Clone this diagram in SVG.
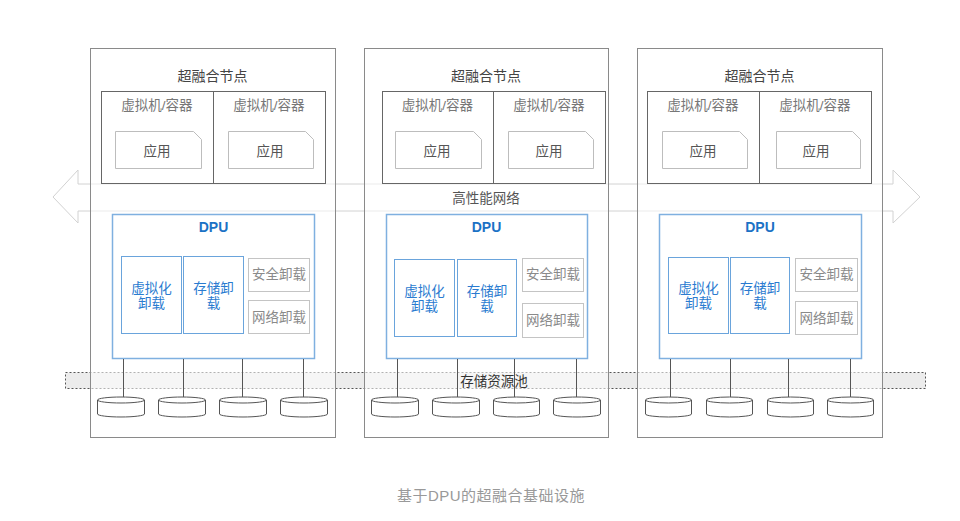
<svg xmlns="http://www.w3.org/2000/svg" width="960" height="521" viewBox="0 0 960 521">
<style>
text{font-family:"Liberation Sans","Noto Sans CJK SC",sans-serif;text-anchor:middle}
.outer{fill:#fff;fill-opacity:0.55;stroke:#8a8a8a;stroke-width:1}
.vm{fill:none;stroke:#666;stroke-width:1}
.app{fill:#fff;stroke:#bdbdbd;stroke-width:1}
.dpu{fill:#fff;stroke:#7fb0e0;stroke-width:1.5}
.blue{fill:#fff;stroke:#6aa4dc;stroke-width:1}
.gray{fill:#fff;stroke:#c4c4c4;stroke-width:1}
.disk{fill:#fff;stroke:#555;stroke-width:1}
.link{stroke:#555;stroke-width:1;fill:none}
.t-title{font-size:14px;fill:#444}
.t-vm{font-size:13.5px;fill:#777}
.t-app{font-size:13.5px;fill:#555}
.t-dpu{font-size:14px;font-weight:bold;fill:#1b72c5}
.t-blue{font-size:13.5px;fill:#2a7bd0}
.t-gray{font-size:13.5px;fill:#8a8a8a}
.t-dark{font-size:13.5px;fill:#333}
.t-cap{font-size:15px;fill:#999;letter-spacing:0.5px}
</style>

<g id="network">
<polygon points="53,197 78,170 78,184 893,184 893,170 920,197 893,223 893,211 78,211 78,223" fill="#fff" stroke="#d2d2d2" stroke-width="1"/>
</g>

<g id="storage-pool">
<rect x="65.5" y="372.5" width="860" height="16" fill="#ececec" stroke="#555" stroke-width="1" stroke-dasharray="2 2"/>
</g>

<g id="node1">
<rect class="outer" x="90.5" y="48.5" width="245" height="389"/>
<text class="t-title" x="212.5" y="81">超融合节点</text>
<rect class="vm" x="101.5" y="91.5" width="224" height="92"/>
<line class="vm" x1="213.5" y1="91.5" x2="213.5" y2="183.5"/>
<text class="t-vm" x="157" y="110">虚拟机/容器</text>
<text class="t-vm" x="269" y="110">虚拟机/容器</text>
<path class="app" d="M115.5,131.5 H193.5 L201.5,139.5 V168.5 H115.5 Z"/>
<path class="app" d="M228.5,131.5 H305.5 L313.5,139.5 V168.5 H228.5 Z"/>
<text class="t-app" x="157" y="156">应用</text>
<text class="t-app" x="270" y="156">应用</text>
<rect class="dpu" x="112.5" y="214.5" width="202" height="144"/>
<text class="t-dpu" x="213.5" y="232">DPU</text>
<rect class="blue" x="121.5" y="256.5" width="60" height="77"/>
<rect class="blue" x="183.5" y="256.5" width="60" height="77"/>
<text class="t-blue" x="151.5" y="293">虚拟化</text>
<text class="t-blue" x="151.5" y="308">卸载</text>
<text class="t-blue" x="213.5" y="293">存储卸</text>
<text class="t-blue" x="213.5" y="308">载</text>
<rect class="gray" x="248.5" y="258.5" width="61" height="33"/>
<rect class="gray" x="248.5" y="300.5" width="61" height="33"/>
<text class="t-gray" x="279" y="279">安全卸载</text>
<text class="t-gray" x="279" y="322">网络卸载</text>
<path class="disk" d="M97.5,400 A23.5,3 0 0 1 144.5,400 V414 A23.5,3 0 0 1 97.5,414 Z M97.5,400 A23.5,3 0 0 0 144.5,400"/>
<path class="disk" d="M158.5,400 A23.5,3 0 0 1 205.5,400 V414 A23.5,3 0 0 1 158.5,414 Z M158.5,400 A23.5,3 0 0 0 205.5,400"/>
<path class="disk" d="M219.5,400 A23.5,3 0 0 1 266.5,400 V414 A23.5,3 0 0 1 219.5,414 Z M219.5,400 A23.5,3 0 0 0 266.5,400"/>
<path class="disk" d="M280.5,400 A23.5,3 0 0 1 327.5,400 V414 A23.5,3 0 0 1 280.5,414 Z M280.5,400 A23.5,3 0 0 0 327.5,400"/>
</g>

<g id="node2">
<rect class="outer" x="364.5" y="48.5" width="244" height="389"/>
<text class="t-title" x="486" y="81">超融合节点</text>
<rect class="vm" x="382.5" y="91.5" width="223" height="92"/>
<line class="vm" x1="493.5" y1="91.5" x2="493.5" y2="183.5"/>
<text class="t-vm" x="437.5" y="110">虚拟机/容器</text>
<text class="t-vm" x="549" y="110">虚拟机/容器</text>
<path class="app" d="M395.5,131.5 H473.5 L481.5,139.5 V168.5 H395.5 Z"/>
<path class="app" d="M508.5,131.5 H585.5 L593.5,139.5 V168.5 H508.5 Z"/>
<text class="t-app" x="437" y="156">应用</text>
<text class="t-app" x="549" y="156">应用</text>
<rect class="dpu" x="386.5" y="214.5" width="201" height="144"/>
<text class="t-dpu" x="486.5" y="232">DPU</text>
<rect class="blue" x="394.5" y="259.5" width="60" height="77"/>
<rect class="blue" x="457.5" y="259.5" width="59" height="77"/>
<text class="t-blue" x="424.5" y="296">虚拟化</text>
<text class="t-blue" x="424.5" y="311">卸载</text>
<text class="t-blue" x="487" y="296">存储卸</text>
<text class="t-blue" x="487" y="311">载</text>
<rect class="gray" x="522.5" y="258.5" width="61" height="33"/>
<rect class="gray" x="522.5" y="303.5" width="61" height="34"/>
<text class="t-gray" x="553" y="279">安全卸载</text>
<text class="t-gray" x="553" y="325">网络卸载</text>
<path class="disk" d="M371.5,400 A23.5,3 0 0 1 418.5,400 V414 A23.5,3 0 0 1 371.5,414 Z M371.5,400 A23.5,3 0 0 0 418.5,400"/>
<path class="disk" d="M432.5,400 A23.5,3 0 0 1 479.5,400 V414 A23.5,3 0 0 1 432.5,414 Z M432.5,400 A23.5,3 0 0 0 479.5,400"/>
<path class="disk" d="M493.5,400 A23,3 0 0 1 539.5,400 V414 A23,3 0 0 1 493.5,414 Z M493.5,400 A23,3 0 0 0 539.5,400"/>
<path class="disk" d="M553.5,400 A23.5,3 0 0 1 600.5,400 V414 A23.5,3 0 0 1 553.5,414 Z M553.5,400 A23.5,3 0 0 0 600.5,400"/>
</g>

<g id="node3">
<rect class="outer" x="637.5" y="48.5" width="245" height="389"/>
<text class="t-title" x="759.5" y="81">超融合节点</text>
<rect class="vm" x="647.5" y="91.5" width="224" height="92"/>
<line class="vm" x1="759.5" y1="91.5" x2="759.5" y2="183.5"/>
<text class="t-vm" x="703" y="110">虚拟机/容器</text>
<text class="t-vm" x="815" y="110">虚拟机/容器</text>
<path class="app" d="M662.5,131.5 H739.5 L747.5,139.5 V168.5 H662.5 Z"/>
<path class="app" d="M776.5,131.5 H852.5 L860.5,139.5 V168.5 H776.5 Z"/>
<text class="t-app" x="703" y="156">应用</text>
<text class="t-app" x="816" y="156">应用</text>
<rect class="dpu" x="659.5" y="214.5" width="202" height="144"/>
<text class="t-dpu" x="760" y="232">DPU</text>
<rect class="blue" x="668.5" y="257.5" width="60" height="76"/>
<rect class="blue" x="730.5" y="257.5" width="59" height="76"/>
<text class="t-blue" x="698.5" y="293">虚拟化</text>
<text class="t-blue" x="698.5" y="308">卸载</text>
<text class="t-blue" x="760" y="293">存储卸</text>
<text class="t-blue" x="760" y="308">载</text>
<rect class="gray" x="795.5" y="258.5" width="62" height="33"/>
<rect class="gray" x="795.5" y="301.5" width="62" height="33"/>
<text class="t-gray" x="826.5" y="279">安全卸载</text>
<text class="t-gray" x="826.5" y="323">网络卸载</text>
<path class="disk" d="M645.5,400 A23,3 0 0 1 691.5,400 V414 A23,3 0 0 1 645.5,414 Z M645.5,400 A23,3 0 0 0 691.5,400"/>
<path class="disk" d="M706.5,400 A23,3 0 0 1 752.5,400 V414 A23,3 0 0 1 706.5,414 Z M706.5,400 A23,3 0 0 0 752.5,400"/>
<path class="disk" d="M767.5,400 A23,3 0 0 1 813.5,400 V414 A23,3 0 0 1 767.5,414 Z M767.5,400 A23,3 0 0 0 813.5,400"/>
<path class="disk" d="M827.5,400 A23,3 0 0 1 873.5,400 V414 A23,3 0 0 1 827.5,414 Z M827.5,400 A23,3 0 0 0 873.5,400"/>
</g>

<g id="connectors">
<line class="link" x1="123.5" y1="359" x2="123.5" y2="397"/>
<line class="link" x1="183.5" y1="359" x2="183.5" y2="397"/>
<line class="link" x1="242.5" y1="359" x2="242.5" y2="397"/>
<line class="link" x1="303.5" y1="359" x2="303.5" y2="397"/>
<line class="link" x1="397.5" y1="359" x2="397.5" y2="397"/>
<line class="link" x1="457.5" y1="359" x2="457.5" y2="397"/>
<line class="link" x1="514.5" y1="359" x2="514.5" y2="397"/>
<line class="link" x1="576.5" y1="359" x2="576.5" y2="397"/>
<line class="link" x1="670.5" y1="359" x2="670.5" y2="397"/>
<line class="link" x1="730.5" y1="359" x2="730.5" y2="397"/>
<line class="link" x1="788.5" y1="359" x2="788.5" y2="397"/>
<line class="link" x1="850.5" y1="359" x2="850.5" y2="397"/>
</g>

<g id="labels">
<text class="t-dark" x="486" y="203" style="fill:#555">高性能网络</text>
<text class="t-dark" x="494" y="386">存储资源池</text>
<text class="t-cap" x="491" y="501">基于DPU的超融合基础设施</text>
</g>
</svg>
